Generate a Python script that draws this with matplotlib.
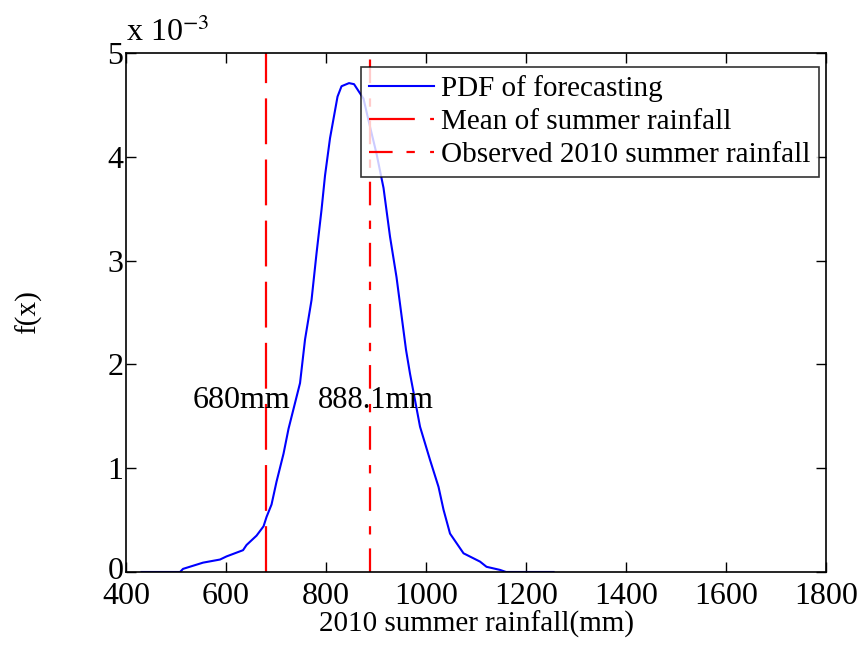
import numpy as np
import matplotlib
matplotlib.use('Agg')
import matplotlib.pyplot as plt
import matplotlib.transforms as mtransforms

matplotlib.rcParams['font.family'] = 'Liberation Serif'
matplotlib.rcParams['mathtext.fontset'] = 'stix'
matplotlib.rcParams['lines.scale_dashes'] = False

# forecast PDF of summer rainfall (mm -> density, in units of 1e-3)
rain = np.array([431, 508, 514, 554, 588, 601, 634, 641, 661, 675, 681, 691,
                 701, 715, 725, 748, 758, 771, 781, 791, 798, 808, 823, 831,
                 846, 856, 875, 885, 901, 915, 928, 941, 960, 968, 988, 1008,
                 1025, 1035, 1048, 1075, 1108, 1121, 1148, 1160, 1255])
pdf = np.array([0.0, 0.0, 0.03, 0.09, 0.12, 0.15, 0.21, 0.26, 0.35, 0.44,
                0.53, 0.65, 0.87, 1.14, 1.38, 1.82, 2.24, 2.62, 3.07, 3.49,
                3.82, 4.18, 4.58, 4.68, 4.71, 4.70, 4.56, 4.35, 4.03, 3.70,
                3.23, 2.84, 2.14, 1.91, 1.40, 1.08, 0.82, 0.60, 0.37, 0.18,
                0.10, 0.05, 0.02, 0.0, 0.0])

mean_rain = 680
observed_rain = 888.1

xticks = [400, 600, 800, 1000, 1200, 1400, 1600, 1800]
yticks = [0, 1, 2, 3, 4, 5]

fs = 23

fig = plt.figure(figsize=(8.58, 6.45), dpi=100)
ax = fig.add_axes([0.1469, 0.1132, 0.8158, 0.8046])

ax.plot(rain, pdf * 1e-3, color='b', linewidth=1.5, label='PDF of forecasting')
ax.plot([mean_rain, mean_rain], [0, 5e-3], color='r', linewidth=1.6,
        dashes=(33, 11), label='Mean of summer rainfall')
ax.plot([observed_rain, observed_rain], [0, 5e-3], color='r', linewidth=1.6,
        dashes=(17, 10, 6, 11), label='Observed 2010 summer rainfall')

ax.text(534, 1.65e-3, '%dmm' % mean_rain, fontsize=fs, ha='left', va='center')
ax.text(784, 1.65e-3, '%.1fmm' % observed_rain, fontsize=fs - 1, ha='left', va='center')

ax.set_xlim(400, 1800)
ax.set_ylim(0, 5e-3)
ax.set_xticks(xticks)
ax.set_yticks([t * 1e-3 for t in yticks])
ax.set_xticklabels([str(t) for t in xticks])
ax.set_yticklabels([str(t) for t in yticks])
ax.tick_params(direction='in', length=7, width=1.0, labelsize=fs,
               top=True, right=True)
ax.tick_params(axis='x', pad=7)
ax.tick_params(axis='y', pad=2)
# nudge the "0" label up a little so it clears the "400" below it
zero = ax.get_yticklabels()[0]
zero.set_transform(zero.get_transform() +
                   mtransforms.ScaledTranslation(0, 3 / 72, fig.dpi_scale_trans))
for sp in ax.spines.values():
    sp.set_linewidth(1.2)

ax.text(0.0, 1.01, r'x 10$^{-3}$', transform=ax.transAxes, fontsize=fs,
        ha='left', va='bottom')

ax.set_xlabel('2010 summer rainfall(mm)', fontsize=21, labelpad=0)
ax.set_ylabel('f(x)', fontsize=21, labelpad=47)

leg = ax.legend(loc='upper right', bbox_to_anchor=(0.99, 0.974), fontsize=21,
                frameon=True, fancybox=False, handlelength=2.2,
                handletextpad=0.25, labelspacing=0.22, borderpad=0.3,
                borderaxespad=0)
leg.get_frame().set_edgecolor('k')
leg.get_frame().set_linewidth(1.2)

fig.savefig('out.png', dpi=100)
